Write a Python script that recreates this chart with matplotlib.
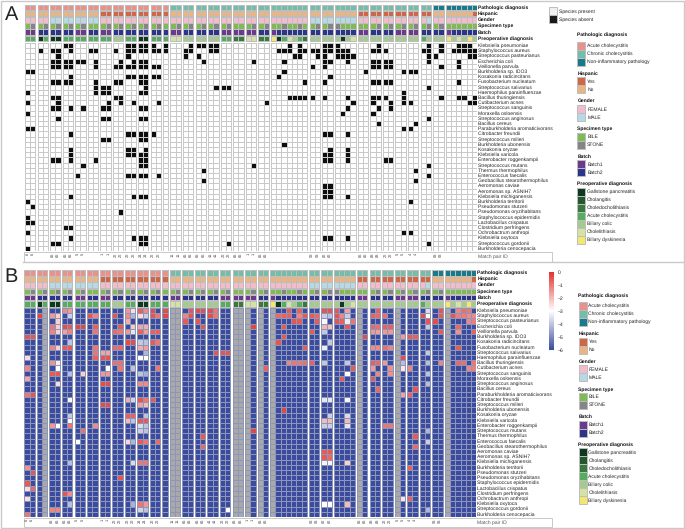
import numpy as np
import matplotlib
matplotlib.use("Agg")
import matplotlib.pyplot as plt
from matplotlib.colors import ListedColormap, LinearSegmentedColormap, Normalize
from matplotlib.patches import Rectangle
from matplotlib.cm import ScalarMappable

plt.rcParams['font.family'] = ['Liberation Sans', 'DejaVu Sans']
plt.rcParams['text.hinting'] = 'no_hinting'
plt.rcParams['text.hinting_factor'] = 1

species = ["Klebsiella pneumoniae", "Staphylococcus aureus", "Streptococcus pasteurianus", "Escherichia coli",
           "Veillonella parvula", "Burkholderia sp. IDO3", "Kosakonia radicincitans", "Fusobacterium nucleatum",
           "Streptococcus salivarius", "Haemophilus parainfluenzae", "Bacillus thuringiensis", "Cutibacterium acnes",
           "Streptococcus sanguinis", "Moraxella osloensis", "Streptococcus anginosus", "Bacillus cereus",
           "Paraburkholderia aromaticivorans", "Citrobacter freundii", "Streptococcus milleri", "Burkholderia ubonensis",
           "Kosakonia oryzae", "Klebsiella varicola", "Enterobacter roggenkampii", "Streptococcus mutans",
           "Thermus thermophilus", "Enterococcus faecalis", "Geobacillus stearothermophilus", "Aeromonas caviae",
           "Aeromonas sp. ASNIH7", "Klebsiella michiganensis", "Burkholderia territorii", "Pseudomonas stutzeri",
           "Pseudomonas oryzihabitans", "Staphylococcus epidermidis", "Lactobacillus crispatus", "Clostridium perfringens",
           "Ochrobactrum anthropi", "Klebsiella oxytoca", "Streptococcus gordonii", "Burkholderia cenocepacia"]

# Column groups (one string per match-pair block)
pathologic = "AA AA AA AA AA AA AA AA AA AA AA A CC CC CC CC CC CC CC CC CCCCCCC CC CC CCCC CC CC CC CC CC CC NN NNNNNN"
hispanic   = "NN NN NN NN NN NN YY YY YY YY YY Y NN NN NN NN NN NN NN NN NNNNNNN NN NN NNNN YY YY YY YY YY YY NN NNNNNY"
gender     = "FF FF MM MM MM MM FF FF FF FF FF F FF FF FF FF FF FF FF FF FFFFFFF MM MM MMMM FF FF FF FF FF FM FF FFFFFF"
specimen   = "BS BS BS BS BS BB BS BS BS BS BS B BS BS BS BS BS BB BS BS BBSBBSB BS BS SBBB BB BS BS BS BS BS BS BBBBBB"
batch      = "11 22 22 22 11 22 11 22 22 22 22 2 11 22 22 22 11 11 11 22 1222222 22 22 2222 11 22 22 11 11 22 22 122222"
preop      = "aa ga gg aa aa aa aa bb aa gg aa a ll bb bb bb aa dd ll dd ygalbad bb bb bgbl bb bb bb bb bb ab bb yblbyb"

ann_names = ["Pathologic diagnosis", "Hispanic", "Gender", "Specimen type", "Batch", "Preoperative diagnosis"]
ann_strings = [pathologic, hispanic, gender, specimen, batch, preop]
ann_keys = ["ACN", "YN", "FM", "BS", "12", "gcdably"]
ann_labels = [["Acute cholecystitis", "Chronic cholecystitis", "Non-inflammatory pathology"],
              ["Yes", "No"], ["FEMALE", "MALE"], ["BILE", "STONE"], ["Batch1", "Batch2"],
              ["Gallstone pancreatitis", "Cholangitis", "Choledocholithiasis", "Acute cholecystitis",
               "Biliary colic", "Cholelithiasis", "Biliary dyskinesia"]]
ann_colors = [["#e8928b", "#74bea9", "#177b8b"], ["#cf6647", "#e9b583"], ["#f2bccb", "#b5dae6"],
              ["#7fbb55", "#858587"], ["#6b3a8f", "#2b358c"],
              ["#0c3a1e", "#25572f", "#39793f", "#55ad60", "#a3cb8e", "#d4e3a5", "#f3e86c"]]

# Pair IDs printed under each block (blank where none was printed)
pair_ids = ["6", "", "66", "66", "5", "", "1", "22", "22", "24", "22", "", "11", "66", "66", "41", "22", "66",
            "1", "66", "", "53", "62", "", "66", "88", "22", "5", "4", "", "53", ""]

# Panel A: columns in which each species is present
present = [
    [6,7,16,17,18,19,20,22,26,27,28,29,30,42,44,48,49,50,57,65,67,70,71,72],
    [2,4,5,7,10,11,14,16,17,18,19,20,21,22,25,26,29,30,40,41,42,44,45,46,47,48,49,50,51,52,56,57,58,64,65,67,69,70,71,72,73],
    [5,16,25,27,43,44,47,48,50,51,52,53,65,66,72,73],
    [4,5,6,7,8,9,11,15,17,18,19,28,36,41,48,49,52,56,57,58,59,65,70],
    [4,5,6,7,11,14,15,16,17,18,19,20,21,46,48,56,57,58,59,67,70],
    [0,1,41,55,61,62,63],
    [7,16,17,18,19,20,21,40,49],
    [4,5,6,7,11,14,15,18,19,45,48,56,57,58,59,70],
    [11,12,13,19,30,31,32,65],
    [0,11,12,13,18,19,61],
    [4,5,14,15,42,43,44,45,46,48,52,56,57,58,61,67,70,71,73],
    [0,5,13,15,17,21,38,53,56,59,61,62,72,73],
    [4,5,7,9,12,13,18,19,52,57,59],
    [0,51,56],
    [5,12,13,18,19,65],
    [57,63],
    [0,1,61,62],
    [7,16,17,18,19,20,48,49,52],
    [12,13,18,19],
    [41],
    [7,16,17,19,49,52],
    [7,16,17,18,19,48,49,52],
    [4,5,7,11,18,19,48,49,52,58,59],
    [9,18,19,36,65],
    [28,63],
    [8,16,17,18,19,21,65],
    [28,63],
    [48,49],
    [48,49],
    [7,17,18,19,48,49,52],
    [0,62],
    [1],
    [15],
    [0],
    [0,1],
    [6,7],
    [0,61,62],
    [7,17,18,19,48,49,52],
    [4,5,18,19,32,65],
    [0],
]

# Panel B: relative abundance (log10) where above the floor of -6
abundance = [
    {6:-1.3,7:-1.5,16:-1.5,17:-2.5,18:-0.7,19:-1.3,20:-0.4,22:-0.4,26:-0.5,27:-0.4,28:-0.4,29:-0.4,30:-1.0,42:-0.6,44:-0.7,48:-0.5,49:-0.5,50:-0.5,52:-1.6,57:-0.7,65:-3.6,67:-0.5,70:-1.2,71:-0.9,72:-1.0},
    {2:-0.3,4:-1.5,5:-2.3,7:-3.8,10:-0.5,11:-1.2,14:-0.5,16:-1.3,17:-4.2,18:-2.5,19:-3.8,20:-0.5,21:-1.0,22:-0.3,25:-1.2,26:-0.5,29:-0.4,30:-1.0,40:-0.8,41:-0.7,42:-0.7,44:-1.2,45:-0.6,46:-0.6,47:-0.8,48:-3.8,49:-4.0,50:-0.5,51:-1.2,52:-3.8,56:-0.7,57:-0.8,58:-0.9,64:-0.4,65:-3.0,67:-0.6,69:-0.5,70:-1.1,71:-1.1,72:-1.3,73:-1.3},
    {5:-2.3,16:-1.8,25:-0.6,27:-0.5,43:-0.5,44:-0.6,47:-0.6,48:-3.1,50:-0.5,51:-0.7,52:-3.3,53:-1.0,65:-0.5,66:-0.4,72:-1.2,73:-1.1},
    {4:-1.0,5:-2.3,6:-0.4,7:-0.6,8:-0.3,9:-0.3,11:-0.7,15:-0.6,17:-2.2,18:-1.7,19:-1.8,28:-0.5,36:-0.3,41:-0.6,48:-1.9,49:-2.1,52:-0.6,56:-0.8,57:-0.9,58:-0.7,59:-0.7,65:-3.9,70:-0.8},
    {4:-1.2,5:-2.3,6:-1.6,7:-1.2,11:-1.0,14:-0.8,15:-1.0,16:-1.5,17:-3.4,18:-0.7,19:-1.6,20:-0.7,21:-0.7,46:-0.6,48:-3.9,56:-1.5,57:-1.6,58:-1.5,59:-1.5,67:-0.6,70:-1.4,73:-0.7},
    {0:-0.5,1:-0.5,41:-0.6,55:-0.4,61:-1.5,62:-0.6,63:-0.7},
    {7:-4.0,16:-0.4,17:-0.4,18:-3.9,19:-4.0,20:-0.6,21:-1.0,40:-0.5,49:-3.9},
    {4:-1.2,5:-2.3,6:-0.6,7:-0.6,11:-1.0,14:-0.8,15:-0.8,18:-1.8,19:-1.6,45:-0.6,48:-3.3,56:-1.3,57:-1.3,58:-0.9,59:-1.2,70:-0.6},
    {11:-1.0,12:-1.7,13:-1.7,19:-4.2,30:-0.5,31:-0.5,32:-0.5,65:-3.9},
    {0:-2.5,11:-0.7,12:-0.5,13:-0.5,18:-3.0,19:-3.0,61:-0.4},
    {4:-1.4,5:-2.7,14:-0.9,15:-0.9,42:-1.2,43:-1.0,44:-1.0,45:-0.9,46:-0.7,48:-3.9,52:-3.9,56:-0.7,57:-0.8,58:-1.5,61:-4.1,65:-4.1,67:-1.2,70:-0.8,71:-0.9,73:-1.0},
    {0:-1.2,5:-3.0,13:-3.0,15:-1.0,17:-4.0,21:-1.0,38:-0.7,53:-0.6,56:-1.5,59:-1.4,61:-2.6,62:-1.2,72:-1.2,73:-1.1},
    {4:-0.6,5:-0.6,7:-4.1,9:-2.3,12:-1.5,13:-1.5,18:-4.0,19:-4.3,52:-3.0,57:-1.2,59:-1.4,65:-4.0},
    {0:-1.7,51:-0.6,56:-0.6},
    {5:-2.5,12:-0.4,13:-0.4,18:-1.3,19:-1.3,65:-4.1},
    {57:-0.8,63:-0.5},
    {0:-1.0,1:-0.5,61:-1.6,62:-0.7},
    {7:-2.9,16:-1.8,17:-3.7,18:-0.5,19:-1.0,20:-0.6,48:-3.4,49:-3.4,52:-2.9},
    {12:-0.4,13:-0.4,18:-1.6,19:-2.0},
    {41:-0.3},
    {7:-3.9,16:-0.7,17:-0.7,19:-4.0,49:-3.8,52:-3.6},
    {7:-3.0,16:-2.0,17:-4.0,18:-0.6,19:-0.6,48:-2.0,49:-2.0,52:-2.0},
    {4:-1.5,5:-3.0,7:-1.0,11:-1.3,18:-3.6,19:-4.0,48:-3.8,49:-3.8,52:-3.4,58:-1.0,59:-1.0},
    {9:-0.9,18:-3.8,19:-4.0,36:-0.3,65:-4.2},
    {28:-0.6,63:-0.6},
    {8:-3.0,16:-2.4,17:-4.2,18:-0.6,19:-1.0,21:-0.8,65:-3.8},
    {28:-0.8,63:-0.8},
    {48:-0.6,49:-0.6},
    {48:-0.6,49:-0.8},
    {7:-4.1,17:-3.6,18:-1.0,19:-1.0,48:-2.8,49:-2.8,52:-2.3},
    {0:-1.4,62:-0.7},
    {1:-0.5},
    {15:-0.5},
    {0:-0.6},
    {0:-2.5,1:-0.8},
    {6:-0.5,7:-1.3},
    {0:-2.5,61:-2.6,62:-0.7},
    {7:-4.1,17:-4.3,18:-1.0,19:-1.5,48:-3.0,49:-3.0,52:-2.0},
    {4:-1.2,5:-1.2,18:-3.7,19:-4.0,32:-3.0,65:-4.2},
    {0:-1.0},
]
# Panel B: columns with no sequencing result (drawn grey)
missing_cols = [3, 23, 24, 33, 34, 35, 37, 39, 54, 60, 68]

# ---------- layout (pixels in a 685 x 529 image) ----------
W, H = 685, 529
fig = plt.figure(figsize=(W / 100, H / 100), dpi=100, facecolor="white")

def add_px_axes(left, top, right, bottom):
    ax = fig.add_axes([left / W, 1 - bottom / H, (right - left) / W, (bottom - top) / H])
    ax.axis("off")
    return ax

groups = [g for g in pathologic.split()]
sizes = [len(g) for g in groups]
GAP = 0.40
n_cols = sum(sizes)
span = n_cols + GAP * (len(sizes) - 1)
n_rows = len(species)

overlay = add_px_axes(0, 0, W, H)
overlay.set_xlim(0, W)
overlay.set_ylim(H, 0)
GREY = "#c9c9c9"
overlay.add_patch(Rectangle((0.8, 0.8), W - 1.8, H - 1.8, fill=False, ec=GREY, lw=1.0))
overlay.plot([23, W - 1], [262.3, 262.3], color=GREY, lw=1.0)

def draw_panel(left, top_ann, top_heat, bottom, box_bottom, title, title_y, cell_values, norm, cmap, edge):
    right = left + 452.0
    ax = add_px_axes(left, top_ann, right, bottom)
    row_h = (bottom - top_heat) / n_rows
    ax.set_xlim(0, span)
    ax.set_ylim(n_rows, -(top_heat - top_ann) / row_h)
    ann_step = 6.2 / row_h
    ann_h = 5.5 / row_h
    ann_top = -(top_heat - top_ann) / row_h

    start_col, start_x = 0, 0.0
    for gi, size in enumerate(sizes):
        xe = start_x + np.arange(size + 1)
        cols = np.arange(start_col, start_col + size)
        # annotation tracks
        for j, (s, keys, colors) in enumerate(zip(ann_strings, ann_keys, ann_colors)):
            codes = np.array([[keys.index(ch) for ch in s.split()[gi]]])
            ye = np.array([ann_top + j * ann_step, ann_top + j * ann_step + ann_h])
            ax.pcolormesh(xe, ye, codes, cmap=ListedColormap(colors), vmin=-0.5, vmax=len(colors) - 0.5,
                          edgecolors="#bdbdbd", linewidth=0.6)
        # main grid
        ax.pcolormesh(xe, np.arange(n_rows + 1), cell_values[:, cols], cmap=cmap, norm=norm,
                      edgecolors=edge, linewidth=0.65)
        # pair ID labels
        if pair_ids[gi]:
            for k in range(size):
                ax.text(xe[k] + 0.5, n_rows + 0.38, pair_ids[gi], rotation=90, fontsize=3.0, color="#444444",
                        ha="center", va="top", clip_on=False)
        start_col += size
        start_x += size + GAP

    tx = span + 1.0 / 5.23
    for r, name in enumerate(species):
        ax.text(tx, r + 0.5, name, fontsize=3.5, ha="left", va="center", color="#222222", clip_on=False)
    for j, name in enumerate(ann_names):
        ax.text(tx, ann_top + j * ann_step + ann_h / 2, name, fontsize=3.75, fontweight="bold", ha="left",
                va="center", color="#111111", clip_on=False)
    # Match pair ID box
    overlay.add_patch(Rectangle((left - 0.5, bottom + 1.2), 528, box_bottom - bottom - 1.2, fill=False, ec=GREY, lw=0.7))
    overlay.text(left + 453, (bottom + box_bottom) / 2 + 0.6, "Match pair ID", fontsize=3.5, color="#555555",
                 ha="left", va="center")
    overlay.text(4.5, title_y, title, fontsize=14.5, color="#222222", ha="left", va="center")


def draw_legends(x, y_titles, y_swatches):
    for title, labels, colors, ty, sy in zip(ann_names, ann_labels, ann_colors, y_titles, y_swatches):
        overlay.text(x[0], ty, title, fontsize=3.75, fontweight="bold", color="#111111", ha="left", va="center")
        for k, (lab, col) in enumerate(zip(labels, colors)):
            overlay.add_patch(Rectangle((x[1], sy + 8 * k), 8, 8, fc=col, ec="#bdbdbd", lw=0.7))
            overlay.text(x[1] + 9.8, sy + 8 * k + 4, lab, fontsize=3.7, color="#222222", ha="left", va="center")


# Panel A
mat_a = np.zeros((n_rows, n_cols))
for r, cols in enumerate(present):
    mat_a[r, cols] = 1
draw_panel(25.0, 4.7, 43.0, 251.0, 262.0, "A", 14.5, mat_a, Normalize(0, 1),
           ListedColormap(["#ffffff", "#0e0e0e"]), "#c9c9c9")

# Panel B
mat_b = np.full((n_rows, n_cols), -6.0)
for r, d in enumerate(abundance):
    for c, v in d.items():
        mat_b[r, c] = v
mat_b[:, missing_cols] = np.nan
heat_cmap = LinearSegmentedColormap.from_list("bwr2", ["#3a4ba0", "#ffffff", "#e1332c"])
heat_cmap.set_bad("#a9a9a9")
draw_panel(24.3, 270.0, 308.0, 517.0, 527.0, "B", 276.5, mat_b, Normalize(-6, 0), heat_cmap, "#8e96b8")

# Species presence key
for k, (lab, col) in enumerate(zip(["Species present", "Species absent"], ["#f0f0f0", "#1a1a1a"])):
    overlay.add_patch(Rectangle((548.7, 7.3 + 8 * k), 8, 8, fc=col, ec="#bdbdbd", lw=0.7))
    overlay.text(558.7, 11.3 + 8 * k, lab, fontsize=3.7, color="#222222", ha="left", va="center")

draw_legends((577.3, 577.3), [35, 73.7, 101, 128.7, 156.3, 184], [42, 77.3, 105.3, 132.7, 160.3, 188])
draw_legends((578.3, 578.6), [295.3, 333.7, 361.3, 389.3, 416.7, 444.3], [302, 338, 365.3, 393, 420.7, 448.3])

# Colour bar for panel B
cax = fig.add_axes([548.7 / W, 1 - 350 / H, 5.3 / W, 78 / H])
cb = fig.colorbar(ScalarMappable(Normalize(-6, 0), heat_cmap), cax=cax, ticks=[0, -1, -2, -3, -4, -5, -6])
cb.outline.set_visible(False)
cb.ax.tick_params(labelsize=3.7, length=0, pad=3, colors="#222222")

fig.savefig("out.png", dpi=100, facecolor="white")
